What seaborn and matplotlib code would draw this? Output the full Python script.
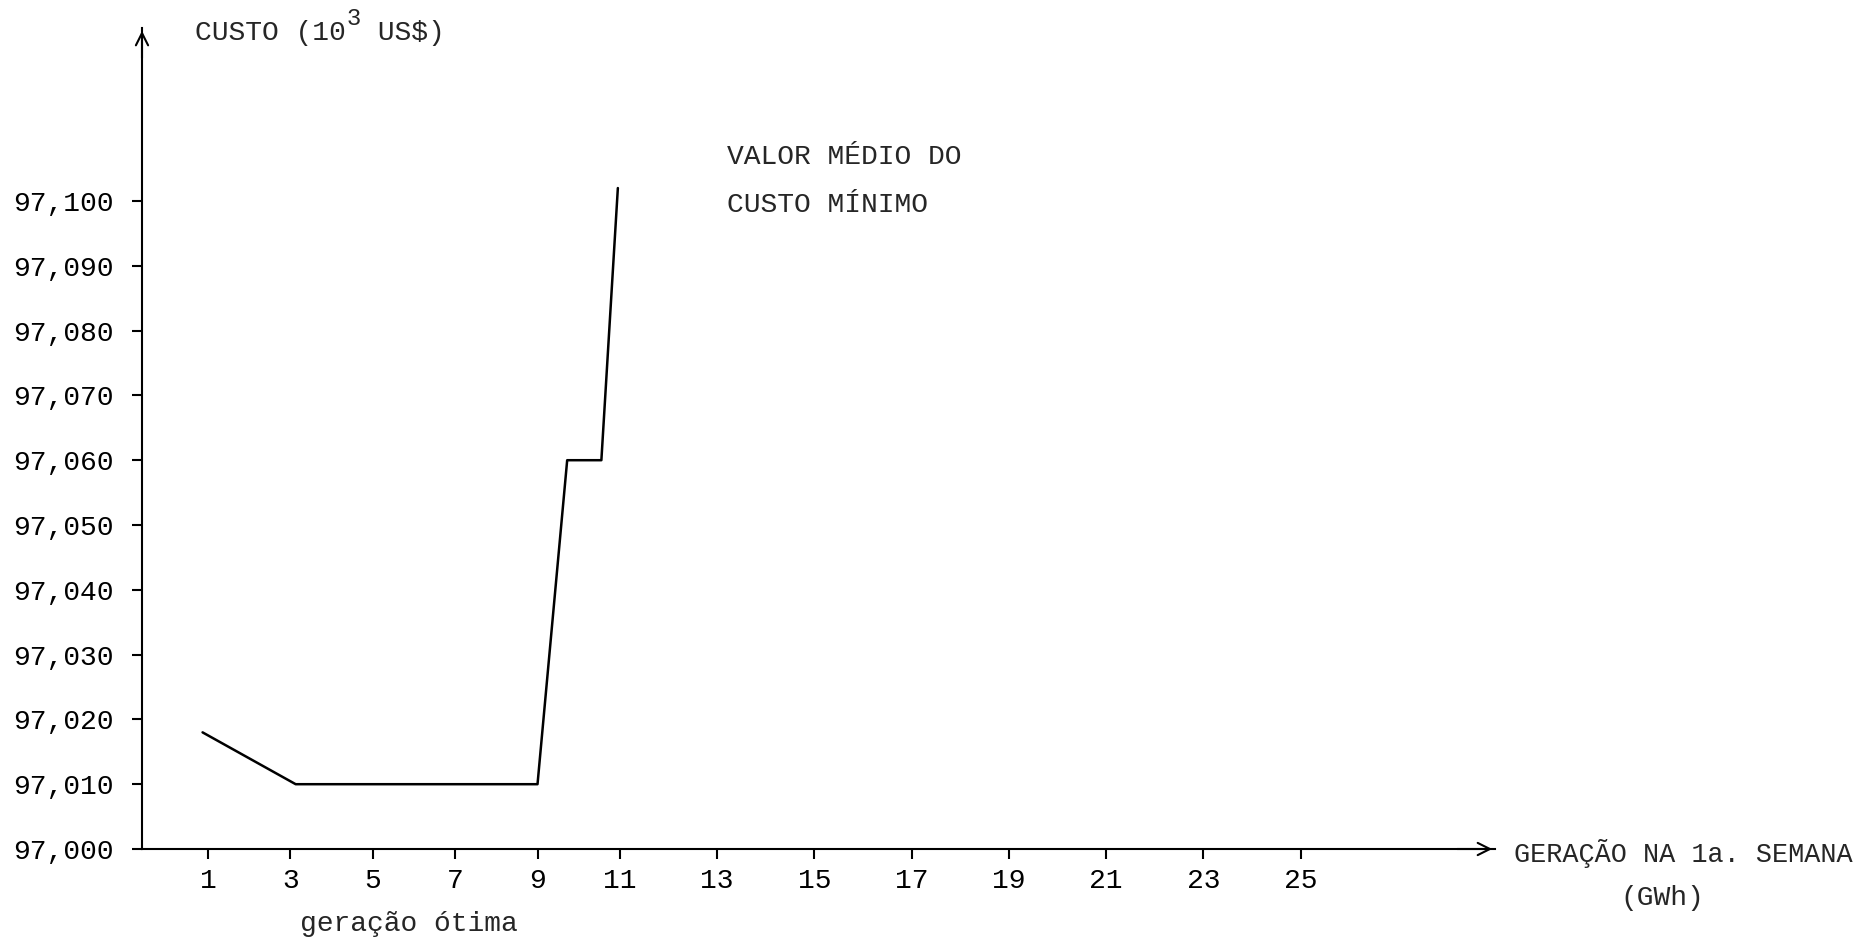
import numpy as np
import pandas as pd
import matplotlib
matplotlib.use("Agg")
import matplotlib.pyplot as plt
import seaborn as sns

# curve
geracao = [0.87, 3.13, 9.0, 9.72, 10.55, 10.95]      # GWh
custo = [97018, 97010, 97010, 97060, 97060, 97102]   # 10^3 US$

x_ticks = list(range(1, 27, 2))
y_ticks = list(range(97000, 97101, 10))
y_tick_labels = [f"{v:,}" for v in y_ticks]

df = pd.DataFrame({"geracao": geracao, "custo": custo})

sns.set_theme(style="white")
plt.rcParams['font.family'] = ['Liberation Mono', 'DejaVu Sans Mono']

FS = 20.2
W, H = 1857, 947
CHAR = 0.6 * FS * 100 / 72   # advance of one monospaced character, px

fig = plt.figure(figsize=(W / 100, H / 100), dpi=100)
ax = fig.add_axes([142 / W, 98 / H, 1353 / W, 821 / H])


# the hand-drawn axis is stretched a bit after 11
def fwd(x):
    x = np.asarray(x, dtype=float)
    return np.where(x <= 11, x, 11 + (x - 11) * 1.18)


def inv(u):
    u = np.asarray(u, dtype=float)
    return np.where(u <= 11, u, 11 + (u - 11) / 1.18)


ax.set_xscale('function', functions=(fwd, inv))

sns.lineplot(data=df, x="geracao", y="custo", ax=ax, color="black", linewidth=1.8)

ax.set_xlim(-0.6, 29.0)
ax.set_ylim(97000, 97126.7)
ax.set_xticks(x_ticks)
ax.set_xticklabels([str(t) for t in x_ticks])
ax.set_yticks(y_ticks)
ax.set_yticklabels(y_tick_labels)
ax.minorticks_off()
ax.set_xlabel("")
ax.set_ylabel("")

for side in ["top", "right"]:
    ax.spines[side].set_visible(False)
for side in ["left", "bottom"]:
    ax.spines[side].set_color("black")
    ax.spines[side].set_linewidth(1.5)

ax.tick_params(axis="y", left=True, direction="out", length=7.5, width=1.5,
               pad=13, labelsize=FS, colors="black")
ax.tick_params(axis="x", bottom=True, direction="out", length=7, width=1.5,
               pad=7, labelsize=FS, colors="black")

# open arrow heads at the end of both axes
arrow = dict(arrowstyle="->", color="black", lw=1.5, mutation_scale=22)
ax.annotate("", xy=(0, 1), xytext=(0, 0.96), xycoords="axes fraction", arrowprops=arrow)
ax.annotate("", xy=(1, 0), xytext=(0.97, 0), xycoords="axes fraction", arrowprops=arrow)

# y title with a typewriter-style raised "3"
x0 = 195
fig.text(x0 / W, 1 - 39.5 / H, "CUSTO (10", fontsize=FS, va="baseline", ha="left")
x0 += 9 * CHAR
fig.text(x0 / W, 1 - 25 / H, "3", fontsize=FS * 0.85, va="baseline", ha="left")
x0 += 0.85 * CHAR
fig.text(x0 / W, 1 - 39.5 / H, " US$)", fontsize=FS, va="baseline", ha="left")

fig.text(727 / W, 1 - 163.5 / H, "VALOR MÉDIO DO", fontsize=FS, va="baseline", ha="left")
fig.text(727 / W, 1 - 211.7 / H, "CUSTO MÍNIMO", fontsize=FS, va="baseline", ha="left")
fig.text(1853 / W, 1 - 861.7 / H, "GERAÇÃO NA 1a. SEMANA", fontsize=19.4, va="baseline", ha="right")
fig.text(1662 / W, 1 - 905 / H, "(GWh)", fontsize=FS, va="baseline", ha="center")
fig.text(300 / W, 1 - 931 / H, "geração ótima", fontsize=FS, va="baseline", ha="left")

fig.savefig("out.png", dpi=100, facecolor="white")
plt.close(fig)
